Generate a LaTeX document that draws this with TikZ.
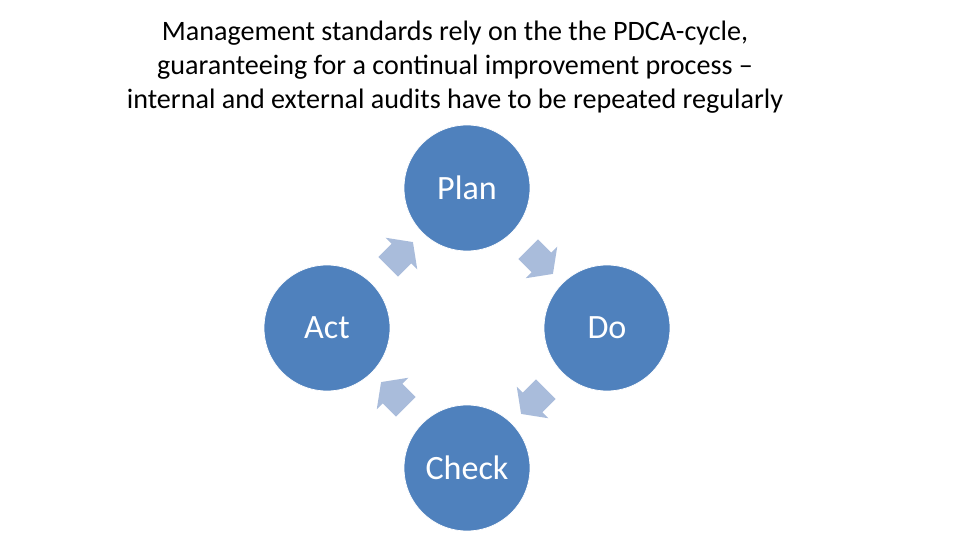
\documentclass[tikz,border=0pt]{standalone}
\usepackage{fontspec}
\setmainfont{Carlito}
\usetikzlibrary{calc,shapes.arrows}
\definecolor{pdcablue}{HTML}{4F81BD}
\definecolor{pdcalight}{HTML}{A9BCDB}
\tikzset{
  phase/.style={circle, fill=pdcablue, draw=white, thin, minimum size=2.52cm, inner sep=0pt,
    text=white, font=\fontsize{19.4}{23}\selectfont},
  flow/.style={single arrow, fill=pdcalight, draw=none, inner xsep=0pt, inner ysep=0.27cm,
    single arrow head extend=0.17cm, single arrow tip angle=108, minimum height=0.7cm}
}
\begin{document}
\begin{tikzpicture}[x=0.02cm, y=-0.02cm]
  \useasboundingbox (0,0) rectangle (960,540);
  \node[align=center, font=\fontsize{16}{19.3}\selectfont] (title) at (455,67)
    {Management standards rely on the the PDCA-cycle,\\
     guaranteeing for a continual improvement process --\\
     internal and external audits have to be repeated regularly};
  \node[phase] (plan) at (467,188) {Plan};
  \node[phase] (do) at (607,328) {Do};
  \node[phase] (check) at (467,468) {Check};
  \node[phase] (act) at (327,328) {Act};
  \node[flow, rotate=45] (a1) at ($(act)!0.5!(plan)$) {};
  \node[flow, rotate=-45] (a2) at ($(plan)!0.5!(do)$) {};
  \node[flow, rotate=-135] (a3) at ($(do)!0.5!(check)$) {};
  \node[flow, rotate=135] (a4) at ($(check)!0.5!(act)$) {};
\end{tikzpicture}
\end{document}
